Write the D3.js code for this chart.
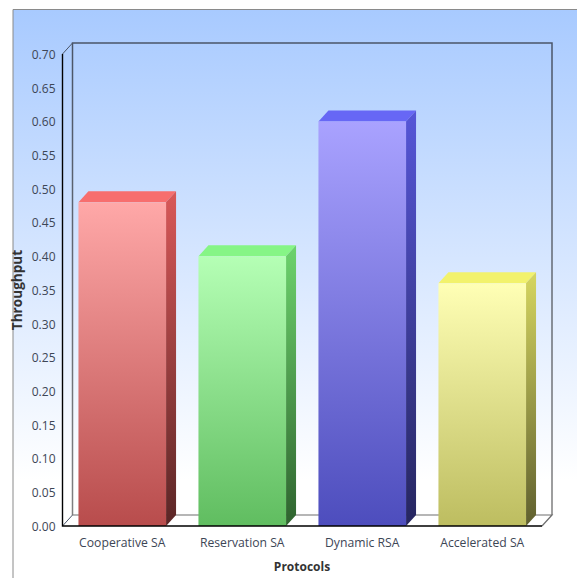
<!DOCTYPE html>
<html>
<head>
<meta charset="utf-8">
<script src="https://cdn.jsdelivr.net/npm/d3@7/dist/d3.min.js"></script>
<style>
html,body{margin:0;padding:0;background:#fff;overflow:hidden}
svg{display:block}
text{font-family:"Open Sans","Noto Sans",sans-serif}
</style>
</head>
<body>
<svg id="chart" width="577" height="578"></svg>
<script>
const categories = ["Cooperative SA", "Reservation SA", "Dynamic RSA", "Accelerated SA"];
const throughput = [0.48, 0.40, 0.60, 0.36];
const tickValues = [0, 0.05, 0.10, 0.15, 0.20, 0.25, 0.30, 0.35, 0.40, 0.45, 0.50, 0.55, 0.60, 0.65, 0.70];
const frontColors = [["#ffa8a8", "#b84c4c"], ["#b5ffb5", "#60bd60"], ["#a9a2ff", "#4d4dbd"], ["#ffffb5", "#bdbd60"]];
const topColors = ["#f76e6e", "#86f586", "#6767f5", "#f2f26c"];
const sideColors = [["#d95858", "#5a2626"], ["#6dd36d", "#2f632f"], ["#5656d8", "#26265f"], ["#d6d660", "#5f5f2f"]];

const width = 577, height = 578;
const margin = {left: 62.5, right: 35, top: 54, bottom: 52};
const depth = {x: 10, y: 11};
const inkBlue = "#3d4656";

const svg = d3.select("#chart");
const defs = svg.append("defs");

function verticalGradient(id, stops, y1, y2) {
  const g = defs.append("linearGradient").attr("id", id);
  if (y1 !== undefined) {
    g.attr("gradientUnits", "userSpaceOnUse").attr("x1", 0).attr("x2", 0).attr("y1", y1).attr("y2", y2);
  } else {
    g.attr("x1", 0).attr("x2", 0).attr("y1", 0).attr("y2", 1);
  }
  stops.forEach((c, i) => g.append("stop").attr("offset", i / (stops.length - 1)).attr("stop-color", c));
}

verticalGradient("panel", ["#a8caff", "#ffffff"], 10, 480);
verticalGradient("wall", ["#4a5568", "#808080"], 43, 515);
categories.forEach((c, i) => {
  verticalGradient("front" + i, frontColors[i]);
  verticalGradient("side" + i, sideColors[i]);
});

const x = d3.scaleBand().domain(categories).range([margin.left, width - margin.right])
  .paddingInner(0.27).paddingOuter(0.133);
const y = d3.scaleLinear().domain([0, 0.7]).range([height - margin.bottom, margin.top]);
const x0 = margin.left, x1 = width - margin.right;
const y0 = y(0), yTop = y(0.7);

// Panel background with a border on the top and left edges only
svg.append("rect").attr("x", 13).attr("y", 10).attr("width", width - 13).attr("height", height - 10)
  .attr("fill", "url(#panel)");
svg.append("path").attr("d", `M13,${height}V9.5H${width}`)
  .attr("fill", "none").attr("stroke", "#8a8a8a").attr("stroke-width", 1);

// Floor and back wall of the 3D box
svg.append("path")
  .attr("d", `M${x0},${y0}L${x0 + depth.x},${y0 - depth.y}H${x1 + depth.x}L${x1},${y0}Z`)
  .attr("fill", "#ffffff");
svg.append("path")
  .attr("d", `M${x0 + depth.x},${y0 - depth.y}V${yTop - depth.y}H${x1 + depth.x}V${y0 - depth.y}`)
  .attr("fill", "none").attr("stroke", "url(#wall)").attr("stroke-width", 1.5);
svg.append("path")
  .attr("d", `M${x0 + depth.x},${y0 - depth.y}H${x1 + depth.x}L${x1},${y0}`)
  .attr("fill", "none").attr("stroke", "#6e6e6e").attr("stroke-width", 1.2);
svg.append("path")
  .attr("d", `M${x0},${yTop}L${x0 + depth.x},${yTop - depth.y}M${x0},${y0}L${x0 + depth.x},${y0 - depth.y}`)
  .attr("fill", "none").attr("stroke", "#4a5568").attr("stroke-width", 1);

// Bars: top face, side face, front face
const bars = svg.selectAll("g.bar").data(categories).join("g").attr("class", "bar");
bars.append("path")
  .attr("fill", (d, i) => topColors[i])
  .attr("d", (d, i) => {
    const l = x(d), r = l + x.bandwidth(), t = y(throughput[i]);
    return `M${l},${t}L${l + depth.x},${t - depth.y}H${r + depth.x}L${r},${t}Z`;
  });
bars.append("path")
  .attr("fill", (d, i) => `url(#side${i})`)
  .attr("d", (d, i) => {
    const r = x(d) + x.bandwidth(), t = y(throughput[i]);
    return `M${r},${t}L${r + depth.x},${t - depth.y}V${y0 - depth.y}L${r},${y0}Z`;
  });
bars.append("rect")
  .attr("fill", (d, i) => `url(#front${i})`)
  .attr("x", d => x(d)).attr("width", x.bandwidth())
  .attr("y", (d, i) => y(throughput[i]))
  .attr("height", (d, i) => y0 - y(throughput[i]));

// Front axis lines
svg.append("path")
  .attr("d", `M${x0},${yTop}V${y0}H${x1}`)
  .attr("fill", "none").attr("stroke", "#000").attr("stroke-width", 1.4);

const yAxis = d3.axisLeft(y).tickValues(tickValues).tickFormat(d3.format(".2f")).tickSize(0).tickPadding(7);
svg.append("g").attr("transform", `translate(${x0},0.5)`).call(yAxis)
  .call(g => g.select(".domain").remove())
  .selectAll("text").attr("font-size", 12).attr("font-family", '"Open Sans"').attr("fill", inkBlue);

const xAxis = d3.axisBottom(x).tickSize(0).tickPadding(12);
svg.append("g").attr("transform", `translate(0,${y0})`).call(xAxis)
  .call(g => g.select(".domain").remove())
  .selectAll("text").attr("font-size", 12.2).attr("font-family", '"Open Sans"').attr("fill", inkBlue);

// Axis titles
svg.append("text").attr("x", 302).attr("y", 571).attr("text-anchor", "middle")
  .attr("font-size", 12).attr("font-weight", 700).attr("fill", "#333").text("Protocols");
svg.append("text").attr("transform", "translate(22,290) rotate(-90)").attr("text-anchor", "middle")
  .attr("font-size", 13.6).attr("font-weight", 700).attr("fill", "#333").text("Throughput");
</script>
</body>
</html>
